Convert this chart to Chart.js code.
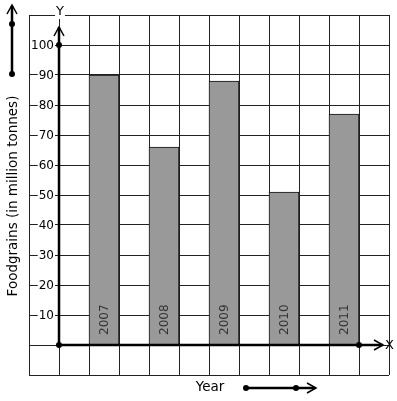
<!DOCTYPE html>
<html>
<head>
<meta charset="utf-8">
<script src="https://cdn.jsdelivr.net/npm/chart.js@4"></script>
<style>
  body { margin: 0; background: #fff; }
  canvas { display: block; }
</style>
</head>
<body>
<canvas id="myChart" width="397" height="401"></canvas>
<script>
const years = ['2007', '2008', '2009', '2010', '2011'];
const foodgrains = [90, 66, 88, 51, 77];
const tickLabels = [10, 20, 30, 40, 50, 60, 70, 80, 90, 100];

// 12 grid columns, the bars sit in every other column starting at the 3rd
const slotCount = 12;
let slotLabels = new Array(slotCount).fill('');
let slotData = new Array(slotCount).fill(null);
for (let i = 0; i < years.length; i++) {
    slotLabels[2 + i * 2] = years[i];
    slotData[2 + i * 2] = foodgrains[i];
}

const FONT = '"DejaVu Sans", sans-serif';

function dot(ctx, x, y, r) {
    ctx.beginPath();
    ctx.arc(x, y, r, 0, Math.PI * 2);
    ctx.fill();
}

function chevron(ctx, x, y, dir) {
    ctx.beginPath();
    if (dir == 'up') {
        ctx.moveTo(x - 5, y + 9);
        ctx.lineTo(x, y);
        ctx.lineTo(x + 5, y + 9);
    } else {
        ctx.moveTo(x - 9, y - 5);
        ctx.lineTo(x, y);
        ctx.lineTo(x - 9, y + 5);
    }
    ctx.stroke();
}

function boxedText(ctx, text, x, y, align) {
    const w = ctx.measureText(text).width;
    let left = x;
    if (align == 'right') left = x - w;
    if (align == 'center') left = x - w / 2;
    ctx.fillStyle = '#fff';
    ctx.fillRect(left - 1, y - 7, w + 2, 14);
    ctx.fillStyle = '#000';
    ctx.textAlign = align;
    ctx.fillText(text, x, y);
}

const decorations = {
    id: 'decorations',
    afterDraw(chart) {
        const ctx = chart.ctx;
        const xs = chart.scales.x;
        const ys = chart.scales.y;
        const area = chart.chartArea;
        const x0 = (xs.getPixelForValue(0) + xs.getPixelForValue(1)) / 2;
        const y0 = ys.getPixelForValue(0);
        ctx.save();

        // year labels inside the bars
        const meta = chart.getDatasetMeta(0);
        ctx.font = '12px ' + FONT;
        ctx.fillStyle = '#333';
        ctx.textAlign = 'left';
        ctx.textBaseline = 'middle';
        meta.data.forEach((bar, i) => {
            if (slotData[i] == null) return;
            ctx.save();
            ctx.translate(bar.x, y0 - 10);
            ctx.rotate(-Math.PI / 2);
            ctx.fillText(slotLabels[i], 0, 1);
            ctx.restore();
        });

        // thick axes
        ctx.strokeStyle = '#000';
        ctx.fillStyle = '#000';
        ctx.lineWidth = 2.5;
        const yTip = ys.getPixelForValue(106);
        const xTip = area.right - 6;
        ctx.beginPath();
        ctx.moveTo(x0, y0);
        ctx.lineTo(x0, yTip);
        ctx.moveTo(x0, y0);
        ctx.lineTo(xTip, y0);
        ctx.stroke();
        ctx.lineWidth = 1.5;
        chevron(ctx, x0, yTip, 'up');
        chevron(ctx, xTip, y0, 'right');
        dot(ctx, x0, y0, 3);
        dot(ctx, x0, ys.getPixelForValue(100), 3);
        dot(ctx, (xs.getPixelForValue(10) + xs.getPixelForValue(11)) / 2, y0, 3);

        // y tick labels
        ctx.font = '12px ' + FONT;
        ctx.textBaseline = 'middle';
        tickLabels.forEach(v => {
            boxedText(ctx, String(v), x0 - 5, ys.getPixelForValue(v) + 0.5, 'right');
        });

        // axis letters
        ctx.font = '13px ' + FONT;
        boxedText(ctx, 'Y', x0 + 1, area.top - 3, 'center');
        ctx.textAlign = 'left';
        ctx.fillText('X', area.right - 4, y0 + 1);

        // axis titles
        ctx.font = '13.5px ' + FONT;
        ctx.textAlign = 'center';
        ctx.save();
        ctx.translate(13, 196);
        ctx.rotate(-Math.PI / 2);
        ctx.fillText('Foodgrains (in million tonnes)', 0, 0);
        ctx.restore();
        ctx.fillText('Year', 210, 387);

        // direction arrows
        ctx.lineWidth = 2.5;
        ctx.beginPath();
        ctx.moveTo(12, 74);
        ctx.lineTo(12, 6);
        ctx.moveTo(246, 388);
        ctx.lineTo(315, 388);
        ctx.stroke();
        ctx.lineWidth = 1.5;
        chevron(ctx, 12, 5, 'up');
        chevron(ctx, 316, 388, 'right');
        dot(ctx, 12, 24, 3);
        dot(ctx, 12, 74, 3);
        dot(ctx, 246, 388, 3);
        dot(ctx, 296, 388, 3);

        ctx.restore();
    }
};

const data = {
    labels: slotLabels,
    datasets: [{
        data: slotData,
        backgroundColor: '#999999',
        borderColor: '#111',
        borderWidth: 1,
        barPercentage: 1,
        categoryPercentage: 1
    }]
};

const config = {
    type: 'bar',
    data: data,
    options: {
        responsive: false,
        animation: false,
        layout: {
            padding: { left: 29, top: 15, right: 8, bottom: 26 }
        },
        plugins: {
            legend: { display: false },
            tooltip: { enabled: false }
        },
        scales: {
            x: {
                grid: { color: '#222', lineWidth: 1, drawTicks: false, offset: true },
                border: { display: false },
                ticks: { display: false }
            },
            y: {
                min: -10,
                max: 110,
                ticks: { display: false, stepSize: 10 },
                grid: { color: '#222', lineWidth: 1, drawTicks: false },
                border: { display: false }
            }
        }
    },
    plugins: [decorations]
};

let myChart = new Chart(document.querySelector('#myChart'), config);
</script>
</body>
</html>
